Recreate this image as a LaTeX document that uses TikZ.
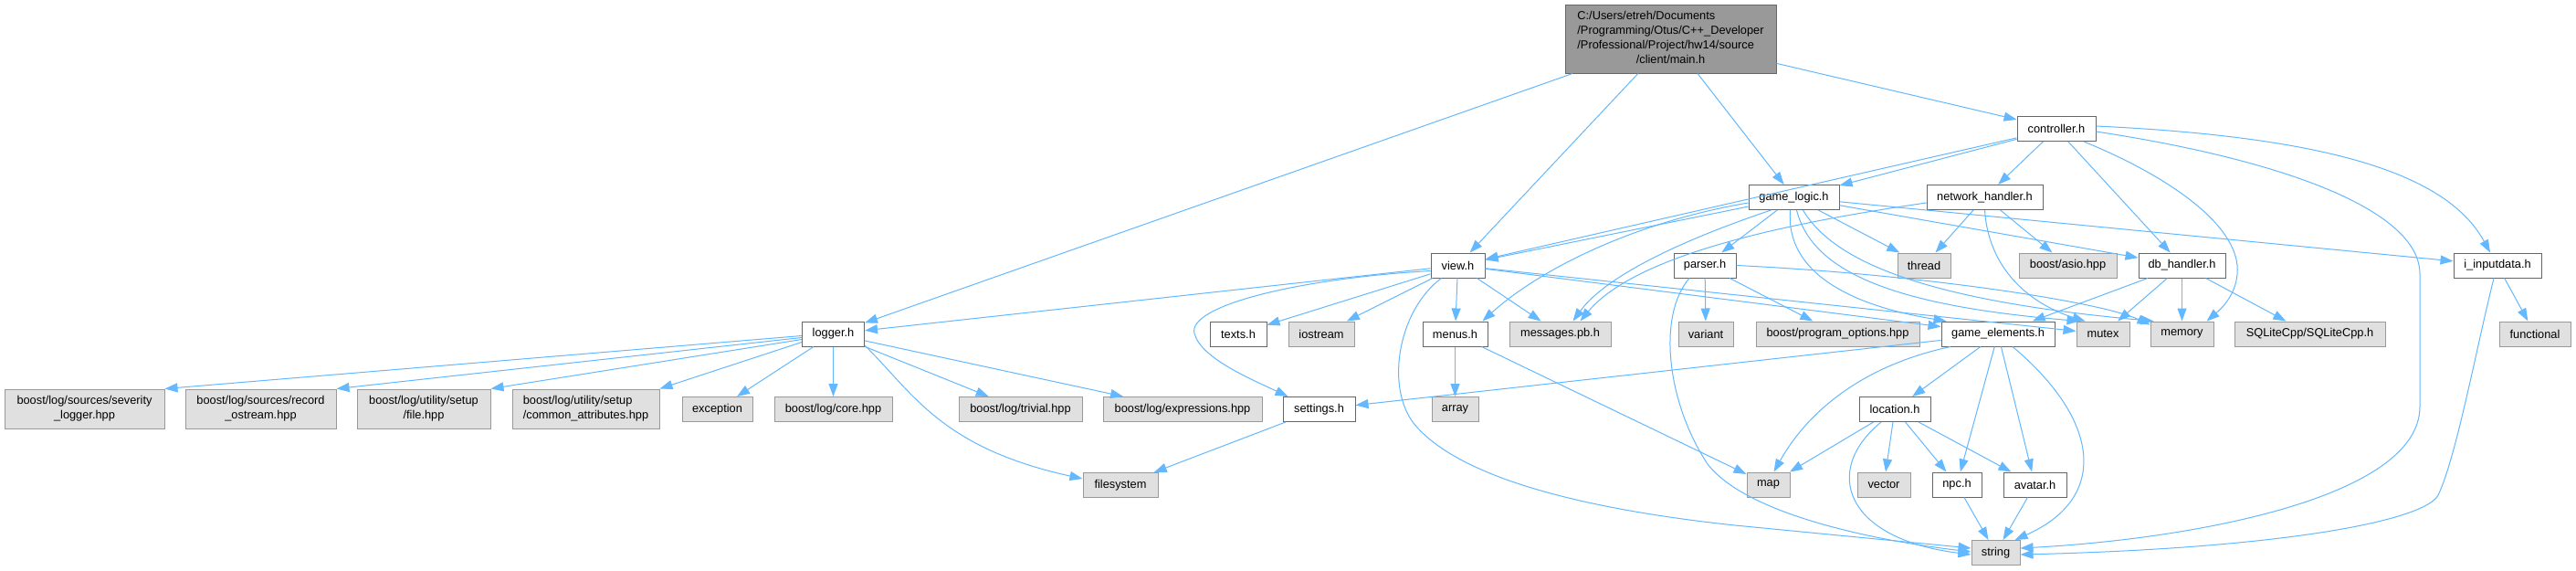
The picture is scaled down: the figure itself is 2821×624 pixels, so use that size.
\documentclass[tikz,border=0pt]{standalone}
\usepackage{fontspec}
\setmainfont{Liberation Sans}
\usetikzlibrary{arrows.meta,calc}
\definecolor{bordoc}{HTML}{666666}
\definecolor{borext}{HTML}{999999}
\definecolor{fillext}{HTML}{E0E0E0}
\definecolor{fillmain}{HTML}{999999}
\definecolor{edgeblue}{HTML}{63B8FF}
\newcommand{\fsz}{\fontsize{12.8}{16}\selectfont}
\newcommand{\twoline}[2]{\begin{tabular}{@{}l@{}}#1\\\multicolumn{1}{@{}c@{}}{#2}\end{tabular}}
\begin{document}
\begin{tikzpicture}[x=1pt,y=-1pt,
  box/.style={draw=bordoc, fill=white, line width=1pt, inner sep=0pt, minimum height=27pt, font=\fsz, text=black},
  ext/.style={box, draw=borext, fill=fillext},
  mainbox/.style={box, draw=bordoc, fill=fillmain},
  dep/.style={draw=edgeblue, line width=1pt, -{Triangle[length=14pt,width=10pt]}}]
\fill[white] (0,0) rectangle (2821,624);
\useasboundingbox (0,0) rectangle (2821,624);
% nodes
\node[mainbox, minimum width=231pt, minimum height=75pt] (main) at (1829.5,42.5)
  {\begin{tabular}{@{}l@{}}C:/Users/etreh/Documents\\/Programming/Otus/C++\_Developer\\/Professional/Project/hw14/source\\\multicolumn{1}{@{}c@{}}{/client/main.h}\end{tabular}};
\node[box, minimum width=86pt] (controller) at (2252,141) {controller.h};
\node[box, minimum width=99pt] (gamelogic) at (1964.5,216) {game\_logic.h};
\node[box, minimum width=127pt] (network) at (2173.5,216) {network\_handler.h};
\node[box, minimum width=59pt] (view) at (1596.5,290.5) {view.h};
\node[box, minimum width=68pt] (parser) at (1867,290.5) {parser.h};
\node[ext, minimum width=58pt] (thread) at (2107,290.5) {thread};
\node[ext, minimum width=107pt] (asio) at (2264.5,290.5) {boost/asio.hpp};
\node[box, minimum width=95pt] (db) at (2389.5,290.5) {db\_handler.h};
\node[box, minimum width=96pt] (inputdata) at (2735,290.5) {i\_inputdata.h};
\node[box, minimum width=68pt] (logger) at (912.5,365.5) {logger.h};
\node[box, minimum width=62pt] (texts) at (1356,365.5) {texts.h};
\node[ext, minimum width=72pt] (iostream) at (1447,365.5) {iostream};
\node[box, minimum width=71pt] (menus) at (1593.5,365.5) {menus.h};
\node[ext, minimum width=111pt] (messages) at (1708.5,365.5) {messages.pb.h};
\node[ext, minimum width=60pt] (variant) at (1868,365.5) {variant};
\node[ext, minimum width=179pt] (options) at (2012.5,365.5) {boost/program\_options.hpp};
\node[box, minimum width=124pt] (gameelements) at (2188,365.5) {game\_elements.h};
\node[ext, minimum width=58pt] (mutex) at (2303,365.5) {mutex};
\node[ext, minimum width=69pt] (memory) at (2389.5,365.5) {memory};
\node[ext, minimum width=165pt] (sqlite) at (2529.5,365.5) {SQLiteCpp/SQLiteCpp.h};
\node[ext, minimum width=78pt] (functional) at (2776,365.5) {functional};
\node[ext, minimum width=175pt, minimum height=43pt] (severity) at (92.5,447.5) {\twoline{boost/log/sources/severity}{\_logger.hpp}};
\node[ext, minimum width=165pt, minimum height=43pt] (record) at (285.5,447.5) {\twoline{boost/log/sources/record}{\_ostream.hpp}};
\node[ext, minimum width=146pt, minimum height=43pt] (file) at (464,447.5) {\twoline{boost/log/utility/setup}{/file.hpp}};
\node[ext, minimum width=161pt, minimum height=43pt] (common) at (641.5,447.5) {\twoline{boost/log/utility/setup}{/common\_attributes.hpp}};
\node[ext, minimum width=77pt] (exception) at (785.5,448) {exception};
\node[ext, minimum width=129pt] (core) at (912.5,448) {boost/log/core.hpp};
\node[ext, minimum width=135pt] (trivial) at (1117.5,448) {boost/log/trivial.hpp};
\node[ext, minimum width=174pt] (expressions) at (1295,448) {boost/log/expressions.hpp};
\node[box, minimum width=79pt] (settings) at (1444.5,448) {settings.h};
\node[ext, minimum width=51pt] (array) at (1593.5,448) {array};
\node[box, minimum width=78pt] (location) at (2075,448) {location.h};
\node[ext, minimum width=82pt] (filesystem) at (1227,531) {filesystem};
\node[ext, minimum width=47pt] (map) at (1936.5,530.5) {map};
\node[ext, minimum width=58pt] (vector) at (2063,530.5) {vector};
\node[box, minimum width=54pt] (npc) at (2143,530.5) {npc.h};
\node[box, minimum width=69pt] (avatar) at (2228.5,530.5) {avatar.h};
\node[ext, minimum width=53pt] (string) at (2185.5,605) {string};
% edges from main
\draw[dep] (main) -- (logger);
\draw[dep] (main) -- (view);
\draw[dep] (main) -- (gamelogic);
\draw[dep] (main) -- (controller);
% controller
\draw[dep] (controller) -- (view);
\draw[dep] (controller) -- (gamelogic);
\draw[dep] (controller) -- (network);
\draw[dep] (controller) -- (db);
\draw[dep] ([yshift=3pt]controller.east) .. controls (2550,150) and (2680,190) .. ([xshift=-8pt]inputdata.north);
\draw[dep] ([yshift=-3pt]controller.east) .. controls (2500,175) and (2650,230) .. (2650,300) -- (2650,445) .. controls (2650,545) and (2400,590) .. ([yshift=5pt]string.east);
\draw[dep] (controller.-25) .. controls (2380,195) and (2455,250) .. (2450,300) .. controls (2448,325) and (2430,340) .. ([xshift=-8pt]memory.north east);
% game_logic
\draw[dep] (gamelogic) -- (view);
\draw[dep] (gamelogic) -- (parser);
\draw[dep] (gamelogic) -- (thread);
\draw[dep] (gamelogic) -- (db);
\draw[dep] (gamelogic) -- (inputdata);
\draw[dep] ([yshift=-6pt]gamelogic.west) .. controls (1780,245) and (1680,300) .. ([xshift=-6pt]menus.north east);
\draw[dep] ([xshift=-25pt]gamelogic.south) .. controls (1850,260) and (1760,300) .. ([xshift=-42pt]messages.north east);
\draw[dep] ([xshift=-4pt]gamelogic.south) .. controls (1955,300) and (2030,335) .. ([xshift=6pt]gameelements.north west);
\draw[dep] ([xshift=3pt]gamelogic.south) .. controls (1985,300) and (2080,335) .. ([xshift=4pt]mutex.north west);
\draw[dep] ([xshift=10pt]gamelogic.south) .. controls (2010,290) and (2120,330) .. ([xshift=4pt]memory.north west);
% network_handler
\draw[dep] (network) -- (thread);
\draw[dep] (network) -- (asio);
\draw[dep] ([yshift=-6pt]network.west) .. controls (1950,245) and (1790,280) .. ([xshift=-34pt]messages.north east);
\draw[dep] (network.south) .. controls (2178,300) and (2230,335) .. ([xshift=10pt]mutex.north west);
% view
\draw[dep] (view) -- (logger);
\draw[dep] (view) -- (texts);
\draw[dep] (view) -- (iostream);
\draw[dep] (view) -- (menus);
\draw[dep] (view) -- (messages);
\draw[dep] (view) -- (gameelements);
\draw[dep] (view) -- (mutex);
\draw[dep] ([yshift=-6pt]view.west) .. controls (1420,305) and (1300,335) .. (1308,365) .. controls (1315,392) and (1370,415) .. ([xshift=6pt]settings.north west);
\draw[dep] ([xshift=-18pt]view.south) .. controls (1530,340) and (1515,430) .. (1553,469) .. controls (1610,530) and (1760,560) .. (1900,575) -- ([yshift=5pt]string.west);
% parser
\draw[dep] (parser) -- (variant);
\draw[dep] (parser) -- (options);
\draw[dep] (parser.east) .. controls (2100,300) and (2300,330) .. ([yshift=-4pt]memory.north west);
\draw[dep] ([xshift=-17pt]parser.south) .. controls (1815,345) and (1825,440) .. (1870,508) .. controls (1910,560) and (2040,590) .. ([yshift=1pt]string.west);
% db_handler
\draw[dep] (db) -- (gameelements);
\draw[dep] (db) -- (mutex);
\draw[dep] (db) -- (memory);
\draw[dep] (db) -- (sqlite);
% i_inputdata
\draw[dep] (inputdata) -- (functional);
\draw[dep] ([xshift=-4pt]inputdata.south) .. controls (2712,380) and (2690,500) .. (2670,542) .. controls (2655,570) and (2500,600) .. ([yshift=-2pt]string.east);
% game_elements
\draw[dep] (gameelements) -- (settings);
\draw[dep] ([xshift=-52pt]gameelements.south) .. controls (2040,400) and (1980,450) .. ([xshift=6pt]map.north);
\draw[dep] (gameelements) -- (location);
\draw[dep] (gameelements) -- (npc);
\draw[dep] (gameelements) -- (avatar);
\draw[dep] ([xshift=16pt]gameelements.south) .. controls (2300,460) and (2310,545) .. ([xshift=-6pt]string.north east);
% location
\draw[dep] (location) -- (map);
\draw[dep] (location) -- (vector);
\draw[dep] (location) -- (npc);
\draw[dep] (location) -- (avatar);
\draw[dep] ([xshift=-15pt]location.south) .. controls (1995,515) and (2020,590) .. ([yshift=-2pt]string.west);
\draw[dep] (npc) -- (string);
\draw[dep] (avatar) -- (string);
% menus, settings
\draw[dep] (menus) -- (array);
\draw[dep] (menus) -- (map);
\draw[dep] (settings) -- (filesystem);
% logger
\draw[dep] (logger.-20) .. controls (1000,430) and (1030,490) .. ([yshift=7pt]filesystem.west);
\draw[dep] ([yshift=-2pt]logger.west) -- (severity.north east);
\draw[dep] ([yshift=-4pt]logger.west) -- (record.north east);
\draw[dep] ([yshift=-6pt]logger.west) -- (file.north east);
\draw[dep] ([yshift=-9pt]logger.west) -- (common.north east);
\draw[dep] (logger) -- (exception);
\draw[dep] (logger) -- (core);
\draw[dep] (logger) -- (trivial);
\draw[dep] (logger) -- (expressions);
\end{tikzpicture}
\end{document}
